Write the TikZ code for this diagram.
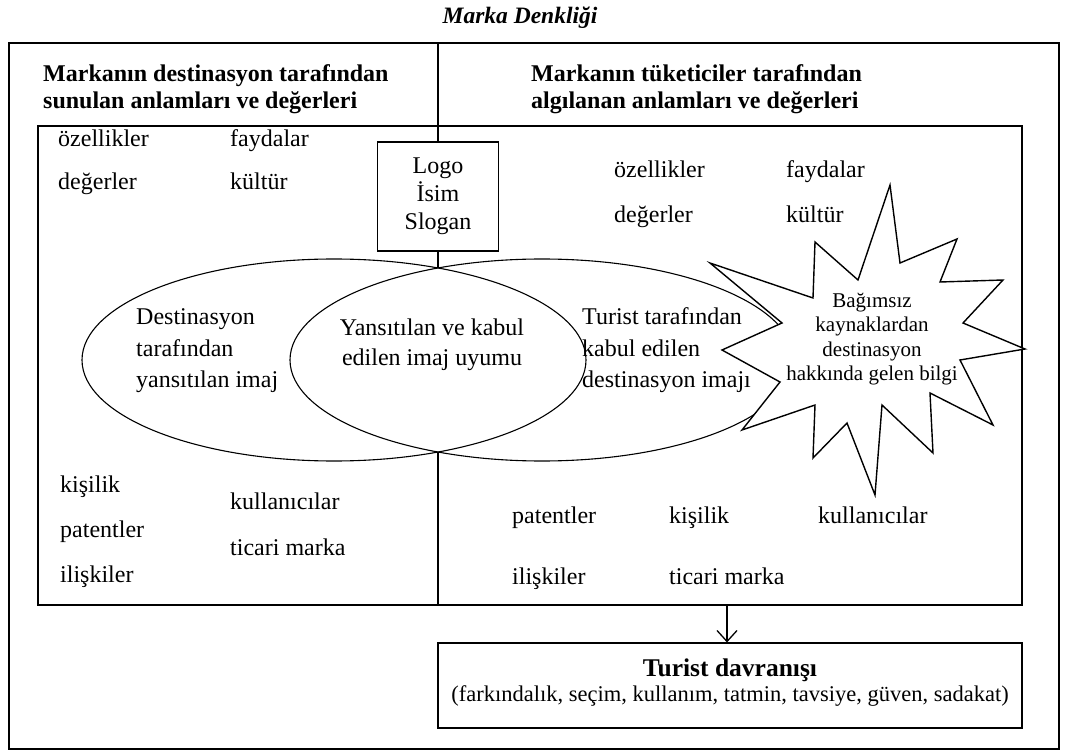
\documentclass[tikz,border=0pt]{standalone}
\usepackage{fontspec}
\setmainfont{Liberation Serif}
\usetikzlibrary{shapes.geometric,arrows.meta}
\begin{document}
\begin{tikzpicture}[x=1pt,y=-1pt,
  frame/.style={draw, line width=1.6pt},
  thin line/.style={line width=1.1pt},
  body/.style={inner sep=0pt, font=\fontsize{24}{28}\selectfont},
  word/.style={body, anchor=base west},
  head/.style={inner sep=0pt, anchor=base west, align=left, font=\fontsize{24}{27}\selectfont\bfseries},
  oval/.style={draw, thin line, ellipse, minimum width=504pt, minimum height=202pt, inner sep=0pt},
  burst/.style={draw, line width=1.4pt, fill=white, line join=miter}
]
\useasboundingbox (0,0) rectangle (1066,751);

% title
\node[inner sep=0pt, anchor=base, font=\fontsize{23.5}{27}\selectfont\bfseries\itshape] (title) at (520,24) {Marka Denkliği};

% frames
\draw[frame] (9,43) rectangle (1059,749);
\draw[frame] (38,126) rectangle (1022,605);
\coordinate (divtop) at (438,43);
\coordinate (divbot) at (438,605);
\coordinate (lenstop) at (438,268);
\coordinate (lensbot) at (438,452);

% headings (base = baseline of the last line)
\node[head] (hl) at (43,109) {Markanın destinasyon tarafından\\sunulan anlamları ve değerleri};
\node[head] (hr) at (531,109) {Markanın tüketiciler tarafından\\algılanan anlamları ve değerleri};

% logo box
\node[draw, thin line, minimum width=121pt, minimum height=109pt, inner sep=0pt, align=center,
      font=\fontsize{24}{28}\selectfont] (logo) at (438,196.5) {Logo\\İsim\\Slogan};
\draw[frame] (divtop) -- (logo.north);
\draw[thin line] (logo.south) -- (lenstop);
\draw[frame] (lensbot) -- (divbot);

% ellipses
\node[oval] (eleft) at (334,360) {};
\node[oval] (eright) at (542,360) {};

\node[body, anchor=base west, align=left, font=\fontsize{24}{31.5}\selectfont] (tleft) at (136,388) {Destinasyon\\tarafından\\yansıtılan imaj};
\node[body, anchor=base, align=center, font=\fontsize{24}{30}\selectfont] (tlens) at (432,366) {Yansıtılan ve kabul\\edilen imaj uyumu};
\node[body, anchor=base west, align=left, font=\fontsize{24}{31.5}\selectfont] (tright) at (582,388) {Turist tarafından\\kabul edilen\\destinasyon imajı};

% starburst
\draw[burst] (890,185) -- (900,263) -- (957,239) -- (940,282) -- (1003,280) -- (963,323)
  -- (1025,349) -- (960,360) -- (993,425) -- (930,393) -- (933,453) -- (882,405)
  -- (875,495) -- (847,423) -- (813,458) -- (815,405) -- (742,430) -- (780,382)
  -- (722,350) -- (782,323) -- (710,263) -- (813,298) -- (815,242) -- (858,280) -- cycle;
\node[body, anchor=base, align=center, font=\fontsize{21}{24.5}\selectfont] (info) at (872,381) {Bağımsız\\kaynaklardan\\destinasyon\\hakkında gelen bilgi};

% words, upper left
\node[word] (oz1) at (58,147) {özellikler};
\node[word] (fa1) at (230,147) {faydalar};
\node[word] (de1) at (58,190) {değerler};
\node[word] (ku1) at (230,190) {kültür};
% words, upper right
\node[word] (oz2) at (614,178) {özellikler};
\node[word] (fa2) at (786,178) {faydalar};
\node[word] (de2) at (614,223) {değerler};
\node[word] (ku2) at (786,223) {kültür};
% words, lower left
\node[word] (ki1) at (60,492) {kişilik};
\node[word] (pa1) at (60,537) {patentler};
\node[word] (il1) at (60,582) {ilişkiler};
\node[word] (kl1) at (230,509) {kullanıcılar};
\node[word] (ti1) at (230,555) {ticari marka};
% words, lower right
\node[word] (pa2) at (512,523) {patentler};
\node[word] (ki2) at (669,523) {kişilik};
\node[word] (kl2) at (818,523) {kullanıcılar};
\node[word] (il2) at (512,584) {ilişkiler};
\node[word] (ti2) at (669,584) {ticari marka};

% tourist behaviour box
\node[draw, thin line, minimum width=584pt, minimum height=85pt, inner sep=0pt] (tb) at (730,685.5) {};
\node[inner sep=0pt, anchor=base, font=\fontsize{25.5}{30}\selectfont\bfseries] (tbh) at (730,676) {Turist davranışı};
\node[inner sep=0pt, anchor=base, font=\fontsize{22.5}{26}\selectfont] (tbs) at (730,701) {(farkındalık, seçim, kullanım, tatmin, tavsiye, güven, sadakat)};
\coordinate (arrtop) at (727,605);
\draw[thin line, -{Straight Barb[length=11pt,width=20pt,line width=1.3pt]}] (arrtop) -- (arrtop |- tb.north);
\end{tikzpicture}
\end{document}
